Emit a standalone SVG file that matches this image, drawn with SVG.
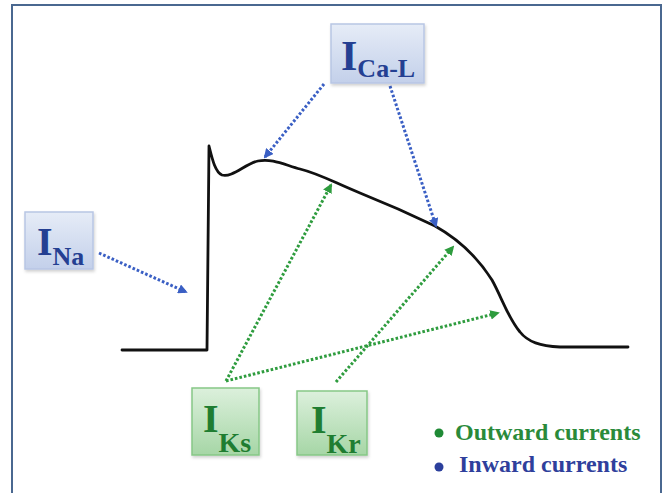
<svg xmlns="http://www.w3.org/2000/svg" width="664" height="493" viewBox="0 0 664 493">
<defs>
<style>
.lbl{font-family:"Liberation Serif","Times New Roman",serif;font-weight:bold}
.bt{fill:#243f92}
.gt{fill:#1f7d31}
.bbox{fill:url(#gb);stroke:#b8c6e4;stroke-width:1.5}
.gbox{fill:url(#gg);stroke:#86c786;stroke-width:1.5}
.ba{fill:none;stroke:#3a5fc4;stroke-width:3;stroke-dasharray:2.6 2;marker-end:url(#ab)}
.ga{fill:none;stroke:#2e9c3e;stroke-width:3;stroke-dasharray:2.6 2;marker-end:url(#ag)}
.ap{fill:none;stroke:#111;stroke-width:2.8;stroke-linejoin:round;stroke-linecap:round}
.leg{font-family:"Liberation Serif","Times New Roman",serif;font-weight:bold;font-size:24px}
</style>
<linearGradient id="gb" x1="0" y1="0" x2="0" y2="1">
<stop offset="0" stop-color="#e6ecf7"/><stop offset="1" stop-color="#c3d0ea"/>
</linearGradient>
<linearGradient id="gg" x1="0" y1="0" x2="0" y2="1">
<stop offset="0" stop-color="#dcf0dc"/><stop offset="1" stop-color="#a6d6a6"/>
</linearGradient>
<filter id="sh" x="-20%" y="-20%" width="140%" height="140%">
<feDropShadow dx="1" dy="2" stdDeviation="1.5" flood-color="#000" flood-opacity="0.18"/>
</filter>
<marker id="ab" viewBox="0 0 10 10" refX="8" refY="5" markerWidth="3.2" markerHeight="3.2" orient="auto" markerUnits="strokeWidth">
<path d="M0,0 L10,5 L0,10 z" fill="#3a5fc4"/>
</marker>
<marker id="ag" viewBox="0 0 10 10" refX="8" refY="5" markerWidth="3.2" markerHeight="3.2" orient="auto" markerUnits="strokeWidth">
<path d="M0,0 L10,5 L0,10 z" fill="#2e9c3e"/>
</marker>
</defs>
<rect width="664" height="493" fill="#ffffff"/>
<path d="M12,500 V5 H661 V500" fill="none" stroke="#4a6890" stroke-width="2"/>

<g id="action-potential">
<path class="ap" d="M122,350 H207 L209,146 C212,158 215,172 222,175 C232,178 245,164 258,161 C272,158 285,165 300,169 C320,174 333,182 360,193 C385,203 410,214 435,226 C460,240 478,258 492,280 C502,298 508,318 520,332 C528,342 540,346 560,347 L628,347"/>
</g>

<g id="connectors">
<path class="ba" d="M324,84 L265,157"/>
<path class="ba" d="M390,86 L436,226"/>
<path class="ba" d="M99,253 L186,292"/>
<path class="ga" d="M226,381 L331,185"/>
<path class="ga" d="M226,381 L498,313"/>
<path class="ga" d="M336,382 L453,247"/>
</g>

<g id="node-ICaL">
<rect class="bbox" x="331" y="24" width="93" height="59" filter="url(#sh)"/>
<text class="lbl bt" x="341" y="70" font-size="42">I<tspan font-size="26" dy="7">Ca-L</tspan></text>
</g>

<g id="node-INa">
<rect class="bbox" x="25" y="212" width="68" height="57" filter="url(#sh)"/>
<text class="lbl bt" x="37" y="255" font-size="40">I<tspan font-size="26" dy="10">Na</tspan></text>
</g>

<g id="node-IKs">
<rect class="gbox" x="192" y="388" width="67" height="67" filter="url(#sh)"/>
<text class="lbl gt" x="203" y="432" font-size="40">I<tspan font-size="28" dy="20">Ks</tspan></text>
</g>

<g id="node-IKr">
<rect class="gbox" x="297" y="391" width="70" height="64" filter="url(#sh)"/>
<text class="lbl gt" x="311" y="433" font-size="40">I<tspan font-size="28" dy="20">Kr</tspan></text>
</g>

<g id="legend">
<circle cx="439" cy="433" r="4.5" fill="#1f8a35"/>
<text class="leg" x="455" y="440" fill="#2a8a3a">Outward currents</text>
<circle cx="439" cy="467" r="4.5" fill="#2b3f9c"/>
<text class="leg" x="459" y="472" fill="#2f3f9c">Inward currents</text>
</g>
</svg>
